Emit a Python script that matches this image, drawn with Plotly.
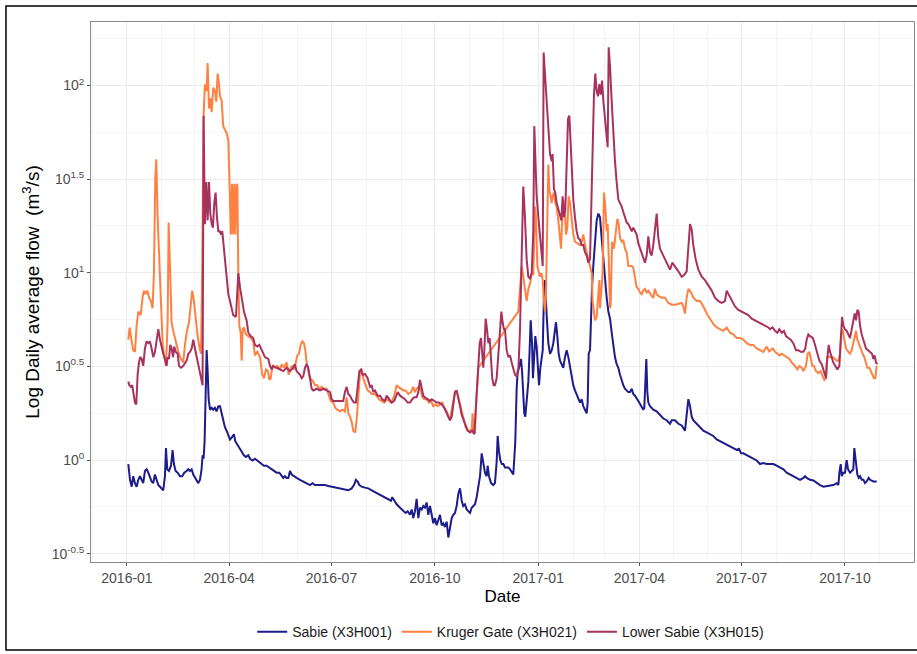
import numpy as np
import pandas as pd
import plotly.graph_objects as go

START = pd.Timestamp("2016-01-01")

# ---- Sabie (X3H001): day since 2016-01-01, log10 daily average flow ----
sabie_day = [1.2,2.7,4.2,5.6,7.1,8.6,10.1,11.6,13.1,14.5,16.0,17.5,19.0,20.5,21.9,23.4,24.9,26.4,27.9,29.4,30.9,32.3,33.8,34.7,35.9,37.4,39.2,40.6,41.8,43.3,45.1,47.2,49.2,51.0,53.1,54.6,56.1,57.6,59.0,60.5,62.0,63.5,65.0,66.4,67.3,68.2,69.1,70.0,70.9,71.8,72.7,73.9,75.4,76.8,78.3,79.8,81.3,82.8,84.2,85.7,87.2,88.7,90.2,
    91.7,93.2,95.2,96.4,98.2,100.0,102.1,104.1,105.9,108.0,109.5,111.8,113.9,116.0,118.4,119.9,121.9,124.3,126.7,128.8,130.8,133.2,135.6,137.7,139.1,140.6,142.1,143.6,145.1,146.6,148.6,151.0,154.0,156.9,159.9,162.9,165.2,167.3,170.3,173.3,176.2,179.2,182.2,185.1,188.1,191.1,194.0,197.0,200.0,202.0,203.8,205.3,206.8,208.9,
    211.8,214.8,217.8,220.7,223.7,226.7,229.6,232.6,235.0,236.1,237.9,240.0,243.0,245.9,248.0,249.8,251.9,253.4,254.8,256.3,257.8,259.3,260.8,262.3,263.7,265.2,266.7,268.2,269.7,271.2,272.6,274.1,275.6,277.1,278.6,280.1,281.5,283.0,284.5,286.0,287.5,289.0,290.4,291.9,293.4,294.9,296.4,297.9,299.3,300.8,302.3,303.8,305.3,306.8,308.2,309.7,311.2,312.7,314.2,315.7,317.1,318.6,320.1,321.0,322.2,324.0,326.0,327.5,329.0,329.9,331.1,332.3,333.6,335.0,336.4,
    339.4,340.9,342.4,343.8,344.7,345.6,346.8,347.7,348.9,349.8,350.7,351.6,352.7,353.6,354.5,355.7,357.2,358.1,359.3,360.5,361.3,362.2,363.4,364.6,365.5,366.7,367.9,368.8,370.0,371.1,372.0,373.5,375.0,376.5,378.0,379.4,380.9,381.8,383.0,384.2,385.4,386.9,388.3,389.8,391.3,392.8,394.3,395.8,397.2,398.7,400.2,401.7,403.2,404.7,406.1,407.6,409.1,410.0,410.9,412.1,413.0,413.9,415.0,416.5,418.0,419.5,421.0,422.2,423.3,424.5,425.7,426.9,428.4,429.9,431.4,432.8,434.3,435.8,437.3,438.8,440.3,441.7,443.2,444.7,446.2,447.7,449.2,450.6,
    452.1,455.1,458.1,459.5,460.4,461.6,462.2,463.1,464.0,465.5,468.4,471.4,474.4,477.3,480.3,483.3,484.8,487.7,490.7,493.7,496.6,498.1,499.6,501.1,502.6,504.0,507.0,510.0,512.9,515.9,518.9,521.8,524.8,527.8,530.7,533.7,536.7,539.6,542.6,544.7,546.5,548.5,551.5,554.5,557.4,560.4,563.4,566.3,569.3,
    572.3,575.3,578.2,581.2,584.2,587.1,590.1,593.1,596.0,599.0,602.0,603.4,604.9,607.9,610.9,613.8,616.8,619.8,622.7,625.7,628.6,631.6,633.1,634.0,635.2,636.1,637.5,639.0,640.5,641.7,643.5,645.0,646.4,647.3,648.5,650.0,651.2,652.4,653.9,655.4,656.8,658.3,660.1,661.3,664.2,667.2]
sabie_log = [-0.021,-0.105,-0.142,-0.086,-0.123,-0.142,-0.105,-0.086,-0.105,-0.123,-0.058,-0.049,-0.067,-0.095,-0.114,-0.123,-0.077,-0.105,-0.133,-0.142,-0.151,-0.161,-0.086,0.064,-0.049,-0.058,-0.03,0.054,-0.021,-0.058,-0.067,-0.086,-0.086,-0.067,-0.058,-0.049,-0.058,-0.049,-0.077,-0.095,-0.114,-0.123,-0.105,-0.049,0.026,0.007,0.101,0.381,0.587,0.475,0.325,0.269,0.279,0.269,0.279,0.26,0.288,0.288,0.25,0.204,0.176,0.157,0.138,
    0.11,0.12,0.138,0.101,0.082,0.064,0.045,0.026,0.017,0.026,0.007,-0.002,0.007,-0.002,-0.011,-0.021,-0.03,-0.03,-0.039,-0.049,-0.058,-0.067,-0.067,-0.086,-0.095,-0.086,-0.095,-0.095,-0.058,-0.077,-0.086,-0.095,-0.105,-0.114,-0.123,-0.133,-0.123,-0.133,-0.133,-0.133,-0.133,-0.138,-0.142,-0.146,-0.151,-0.157,-0.161,-0.161,-0.151,-0.133,-0.105,-0.114,-0.133,-0.142,
    -0.147,-0.151,-0.161,-0.17,-0.179,-0.189,-0.198,-0.207,-0.217,-0.198,-0.217,-0.236,-0.254,-0.273,-0.282,-0.273,-0.292,-0.264,-0.31,-0.273,-0.207,-0.31,-0.254,-0.264,-0.245,-0.254,-0.226,-0.292,-0.245,-0.292,-0.338,-0.31,-0.348,-0.32,-0.292,-0.348,-0.338,-0.357,-0.329,-0.413,-0.348,-0.31,-0.292,-0.282,-0.245,-0.179,-0.151,-0.217,-0.245,-0.236,-0.264,-0.273,-0.282,-0.254,-0.245,-0.236,-0.198,-0.142,-0.086,0.036,-0.021,-0.067,-0.086,-0.03,-0.086,-0.123,-0.133,-0.123,-0.011,0.129,0.045,-0.002,-0.021,-0.021,-0.039,
    -0.039,-0.049,-0.067,-0.077,0.007,0.101,0.381,0.475,0.493,0.512,0.54,0.475,0.325,0.25,0.232,0.325,0.419,0.55,0.746,0.624,0.437,0.531,0.662,0.606,0.493,0.4,0.493,0.55,0.587,0.886,0.961,0.774,0.624,0.568,0.587,0.624,0.68,0.736,0.662,0.568,0.531,0.512,0.493,0.55,0.587,0.55,0.493,0.437,0.4,0.372,0.353,0.325,0.307,0.325,0.288,0.269,0.25,0.307,0.568,0.587,0.774,0.923,1.036,1.185,1.279,1.316,1.297,1.204,1.129,1.036,0.923,0.867,0.793,0.755,0.68,0.606,0.55,0.512,0.493,0.456,0.419,0.4,0.381,0.372,0.363,0.363,0.381,0.353,
    0.344,0.316,0.288,0.269,0.279,0.475,0.54,0.363,0.307,0.288,0.269,0.26,0.241,0.222,0.213,0.194,0.213,0.213,0.194,0.185,0.157,0.26,0.325,0.288,0.232,0.213,0.194,0.176,0.157,0.148,0.138,0.129,0.11,0.101,0.092,0.082,0.073,0.064,0.054,0.06,0.036,0.036,0.026,0.017,0.007,-0.002,-0.021,-0.016,-0.021,
    -0.021,-0.021,-0.03,-0.039,-0.049,-0.067,-0.077,-0.086,-0.095,-0.105,-0.095,-0.086,-0.095,-0.105,-0.109,-0.123,-0.133,-0.142,-0.138,-0.133,-0.133,-0.123,-0.133,-0.067,-0.021,-0.086,-0.067,-0.067,0.0,-0.049,-0.067,-0.058,-0.049,0.064,-0.011,-0.077,-0.095,-0.086,-0.105,-0.105,-0.123,-0.114,-0.095,-0.105,-0.114,-0.114]

# ---- Kruger Gate (X3H021) ----
kruger_day = [1.2,2.4,4.2,5.6,7.1,8.6,10.1,12.2,13.9,15.1,16.6,18.1,19.6,21.4,22.8,24.0,25.2,26.1,27.3,28.8,30.3,31.7,33.2,34.7,36.2,37.1,38.3,39.7,41.2,43.3,45.7,48.1,50.1,51.6,53.1,55.2,56.9,58.1,59.6,61.1,62.9,64.4,65.9,67.0,68.2,69.4,70.9,71.8,73.0,74.2,75.4,76.8,78.3,79.5,80.7,81.9,82.8,84.2,85.7,87.2,88.7,90.2,
    91.5,92.5,93.5,94.5,95.5,96.5,97.5,98.3,99.1,100.0,101.2,102.1,103.0,104.1,105.9,108.0,110.1,112.4,113.9,116.0,118.4,120.4,121.9,123.7,125.5,126.7,127.9,129.6,131.7,133.8,136.2,137.7,139.7,142.1,143.9,145.7,147.4,148.9,150.4,151.6,153.1,154.6,156.1,157.5,158.7,159.9,161.4,162.9,164.4,165.8,167.3,169.4,171.2,173.3,175.3,177.7,179.8,181.3,183.6,185.4,187.2,189.6,191.9,194.0,195.5,197.0,198.5,200.0,201.4,203.2,204.4,205.9,207.4,208.9,210.3,
    211.8,214.2,216.3,217.8,220.1,222.2,224.3,226.7,229.0,231.1,233.2,235.5,237.9,240.0,241.5,243.9,245.9,248.0,250.4,252.8,254.8,256.3,257.8,259.9,261.7,262.8,264.6,266.7,268.8,270.6,272.6,274.7,276.5,278.6,280.6,282.4,284.5,286.0,287.5,289.0,290.4,291.9,293.4,294.9,296.4,297.9,299.6,301.4,303.2,305.3,306.8,307.6,308.5,309.7,310.6,312.1,312.7,
    348.3,349.8,351.3,352.7,354.2,355.7,357.2,358.7,360.2,361.6,363.1,364.0,365.2,366.4,367.6,368.8,370.0,371.1,372.0,372.9,373.8,375.0,375.9,377.1,378.0,378.8,380.0,381.2,382.4,383.9,385.4,386.3,387.2,388.3,389.5,390.7,391.9,393.1,394.3,395.8,397.2,398.7,400.8,403.2,404.7,406.1,407.6,409.1,410.6,412.1,413.6,414.4,415.6,416.5,418.0,419.5,420.4,421.0,422.2,423.3,424.5,425.7,426.9,427.8,428.7,429.9,430.5,431.7,433.4,435.2,436.4,437.6,438.8,440.3,441.7,443.2,444.7,446.2,447.7,449.2,450.6,
    452.1,453.6,455.1,456.6,458.1,459.5,461.0,462.5,464.0,465.5,466.9,468.4,469.9,471.4,472.9,475.9,478.8,481.8,484.8,487.7,490.7,493.7,495.1,496.6,498.1,499.6,502.0,504.0,507.0,510.0,513.0,515.9,518.9,521.8,524.8,527.8,530.7,533.7,536.7,539.6,542.6,545.6,548.5,551.5,554.5,557.4,560.4,563.4,566.3,569.3,571.5,
    574.6,576.7,578.8,580.6,582.7,584.7,587.1,589.5,591.6,594.5,596.6,598.4,600.5,602.0,604.3,605.8,607.3,608.5,610.0,611.4,613.2,615.3,617.4,619.2,620.6,622.1,623.3,624.2,625.7,628.0,630.1,631.6,633.1,634.6,635.5,636.7,638.1,639.9,642.0,643.5,645.0,646.4,647.9,648.8,650.0,651.5,653.0,654.7,656.2,657.7,658.9,660.7,662.8,664.8,666.0,667.2]
kruger_log = [0.643,0.708,0.634,0.587,0.578,0.718,0.793,0.774,0.867,0.905,0.886,0.905,0.867,0.849,0.811,0.998,1.503,1.606,1.297,1.036,0.755,0.624,0.55,0.503,0.736,1.269,1.036,0.736,0.69,0.634,0.578,0.54,0.521,0.615,0.68,0.736,0.849,0.905,0.849,0.755,0.662,0.606,0.568,1.036,1.839,2.007,1.97,2.12,1.877,1.933,1.858,1.989,1.97,1.914,2.064,2.007,1.942,1.923,1.783,1.764,1.746,1.708,
    1.465,1.204,1.475,1.204,1.475,1.204,1.475,1.465,0.998,0.718,0.68,0.531,0.699,0.708,0.671,0.662,0.652,0.634,0.559,0.578,0.55,0.456,0.437,0.484,0.475,0.428,0.437,0.503,0.493,0.503,0.484,0.512,0.493,0.521,0.456,0.493,0.503,0.484,0.521,0.559,0.568,0.615,0.634,0.624,0.587,0.521,0.475,0.437,0.428,0.419,0.4,0.4,0.381,0.391,0.381,0.381,0.344,0.316,0.307,0.279,0.269,0.26,0.269,0.26,0.335,0.25,0.232,0.204,0.157,0.148,0.213,0.363,0.465,0.484,0.437,
    0.41,0.372,0.363,0.353,0.353,0.344,0.325,0.316,0.307,0.325,0.316,0.307,0.344,0.4,0.391,0.381,0.372,0.372,0.353,0.363,0.391,0.363,0.381,0.391,0.372,0.335,0.325,0.325,0.307,0.316,0.288,0.297,0.288,0.297,0.307,0.279,0.26,0.232,0.213,0.269,0.316,0.363,0.372,0.335,0.288,0.25,0.222,0.176,0.157,0.157,0.166,0.25,0.148,0.148,0.288,0.475,0.493,
    0.793,0.923,1.036,0.979,0.923,0.849,0.914,0.942,0.998,0.989,1.353,1.297,1.036,0.998,0.979,0.998,0.961,0.849,0.793,0.886,1.222,1.578,1.447,1.409,1.372,1.409,1.428,1.372,1.353,1.279,1.204,1.129,1.26,1.391,1.353,1.204,1.241,1.409,1.372,1.279,1.204,1.166,1.157,1.148,1.166,1.204,1.148,1.11,1.073,1.036,0.998,0.849,0.793,0.746,0.764,0.886,0.961,0.811,0.923,0.998,1.428,1.353,1.222,1.26,1.092,0.811,0.83,1.166,1.129,1.222,1.288,1.26,1.185,1.166,1.175,1.129,1.11,1.036,1.036,1.036,1.026,
    0.979,0.923,0.914,0.895,0.886,0.905,0.914,0.895,0.905,0.886,0.877,0.867,0.914,0.886,0.877,0.867,0.867,0.839,0.83,0.83,0.834,0.839,0.82,0.783,0.867,0.914,0.895,0.867,0.849,0.849,0.82,0.783,0.755,0.727,0.708,0.699,0.69,0.708,0.68,0.671,0.652,0.652,0.643,0.624,0.615,0.615,0.596,0.587,0.578,0.606,0.58,
    0.596,0.578,0.568,0.559,0.568,0.559,0.55,0.54,0.521,0.503,0.484,0.503,0.493,0.475,0.503,0.568,0.578,0.54,0.503,0.503,0.475,0.465,0.475,0.447,0.428,0.437,0.55,0.55,0.55,0.55,0.54,0.531,0.531,0.568,0.671,0.699,0.652,0.596,0.578,0.568,0.587,0.624,0.68,0.69,0.643,0.615,0.596,0.568,0.55,0.521,0.493,0.493,0.465,0.437,0.437,0.503]

# ---- Lower Sabie (X3H015) ----
lower_day = [1.2,2.1,3.6,4.7,5.9,7.1,8.3,9.5,10.7,11.9,13.1,14.5,16.0,17.5,19.0,20.5,21.9,23.4,24.9,26.4,27.9,29.4,30.9,32.3,33.8,35.3,36.2,37.4,38.6,39.8,41.0,42.1,43.3,45.1,46.3,48.1,50.1,51.6,53.1,54.6,56.1,57.6,59.0,60.5,62.0,63.5,65.0,66.4,67.3,68.2,69.4,70.6,71.8,73.0,74.2,75.4,76.5,77.7,78.9,80.1,81.3,82.5,83.7,84.8,86.0,87.2,88.7,90.2,
    91.7,94.6,97.0,99.1,100.6,102.1,104.1,106.5,108.0,110.1,112.4,113.9,116.0,117.8,119.9,121.3,122.8,125.8,127.3,128.8,130.2,133.2,136.2,139.1,142.1,143.6,145.1,148.0,149.5,151.0,154.0,155.5,156.9,158.4,159.9,161.4,162.9,164.4,165.8,168.8,171.8,174.7,177.7,180.7,182.2,183.6,186.6,189.6,192.5,194.0,195.5,197.0,198.5,200.0,202.0,203.8,205.3,206.8,208.3,209.7,
    211.8,214.2,216.3,217.8,219.2,220.7,223.1,225.2,227.2,229.6,231.1,233.2,235.5,237.9,239.1,240.9,243.0,245.0,247.4,249.8,251.9,253.9,255.7,257.8,259.3,260.8,262.3,263.7,265.2,267.6,269.7,271.2,273.5,275.6,277.7,280.1,282.4,284.5,286.0,287.5,289.0,290.4,291.9,293.4,294.9,296.4,297.9,299.6,301.4,303.2,305.3,307.3,309.1,310.3,311.5,312.7,313.9,315.1,316.2,317.1,318.0,319.2,320.4,321.6,322.8,324.0,325.1,326.3,327.5,329.0,330.5,332.0,333.2,334.3,335.5,336.4,
    337.9,339.4,340.9,342.4,343.8,345.3,346.8,348.3,349.8,351.3,352.7,354.2,355.7,357.2,358.7,360.2,361.6,362.5,363.4,364.6,366.1,367.6,369.1,370.0,370.8,372.0,373.5,375.0,376.5,378.0,378.8,380.0,381.2,382.4,383.9,385.4,386.6,387.7,388.9,390.1,391.3,392.5,393.7,394.9,396.1,397.2,398.7,400.2,401.7,403.2,404.7,406.1,407.6,409.1,410.6,412.1,412.7,413.6,414.4,415.6,416.8,418.0,419.2,420.4,421.6,422.8,424.0,425.4,426.9,427.8,428.7,429.9,431.4,432.8,434.3,435.8,437.3,438.8,440.3,441.7,443.2,444.7,446.2,447.7,449.2,450.6,
    453.6,455.1,456.6,458.1,459.5,461.0,462.5,464.0,465.5,466.9,468.4,469.9,471.4,472.9,474.4,477.3,480.3,483.3,485.3,487.7,490.7,493.7,496.0,498.1,499.6,501.1,502.6,504.0,506.1,508.5,511.5,514.4,517.4,520.4,523.3,526.3,529.3,532.2,533.7,535.2,538.2,541.1,544.1,547.1,550.0,553.0,556.0,558.9,561.9,564.9,567.8,570.8,
    572.3,574.6,576.7,578.8,580.6,582.7,584.7,586.5,588.6,590.7,593.0,595.4,597.5,599.6,602.0,603.7,604.9,606.4,607.9,610.3,611.4,613.2,614.4,616.2,618.3,620.3,622.1,622.7,623.6,624.5,625.7,627.2,628.6,630.4,632.2,634.0,635.2,636.4,637.5,639.0,640.5,642.3,643.5,645.0,646.4,647.6,648.8,650.0,651.2,652.4,653.9,656.0,657.7,659.5,661.3,663.1,664.2,665.4,666.6,667.8]
lower_log = [0.419,0.4,0.391,0.4,0.353,0.307,0.297,0.456,0.521,0.55,0.54,0.503,0.596,0.634,0.624,0.634,0.596,0.55,0.578,0.643,0.699,0.643,0.596,0.568,0.54,0.503,0.55,0.54,0.615,0.596,0.55,0.606,0.578,0.568,0.503,0.493,0.503,0.521,0.531,0.568,0.578,0.596,0.643,0.596,0.55,0.512,0.456,0.419,0.4,1.839,1.26,1.484,1.279,1.484,1.316,1.26,1.241,1.372,1.428,1.297,1.222,1.222,1.204,1.222,1.148,1.073,0.979,0.886,
    0.849,0.774,0.764,0.998,0.923,0.867,0.793,0.746,0.68,0.662,0.652,0.615,0.606,0.615,0.587,0.568,0.55,0.54,0.503,0.484,0.503,0.493,0.484,0.475,0.493,0.484,0.475,0.493,0.512,0.475,0.456,0.437,0.447,0.493,0.512,0.493,0.428,0.381,0.372,0.381,0.372,0.381,0.372,0.363,0.325,0.316,0.316,0.316,0.316,0.363,0.391,0.353,0.344,0.325,0.307,0.307,0.4,0.475,0.484,0.456,
    0.46,0.437,0.391,0.4,0.363,0.372,0.344,0.344,0.325,0.316,0.344,0.325,0.307,0.316,0.335,0.363,0.344,0.335,0.325,0.307,0.307,0.325,0.335,0.335,0.363,0.428,0.381,0.344,0.335,0.325,0.316,0.325,0.316,0.307,0.307,0.297,0.279,0.25,0.232,0.213,0.232,0.288,0.363,0.372,0.335,0.288,0.241,0.213,0.176,0.157,0.148,0.157,0.138,0.25,0.419,0.493,0.624,0.652,0.55,0.493,0.578,0.755,0.699,0.624,0.652,0.55,0.437,0.4,0.4,0.437,0.55,0.699,0.793,0.736,0.699,0.699,
    0.587,0.55,0.559,0.521,0.484,0.456,0.447,0.475,0.699,1.036,1.46,1.297,1.073,0.979,0.97,0.998,1.222,1.783,1.596,1.409,1.297,1.185,1.073,1.036,2.176,2.064,1.877,1.727,1.634,1.596,1.634,1.447,1.428,1.372,1.335,1.297,1.279,1.409,1.297,1.335,1.596,1.821,1.839,1.69,1.521,1.391,1.297,1.222,1.185,1.176,1.148,1.148,1.11,1.092,1.054,1.073,1.222,1.447,1.783,1.951,2.064,1.97,1.942,2.007,1.951,2.026,1.914,1.821,1.727,1.671,2.204,2.101,1.914,1.727,1.596,1.484,1.391,1.372,1.353,1.325,1.297,1.269,1.26,1.241,1.222,1.241,
    1.204,1.157,1.129,1.101,1.073,1.054,1.092,1.194,1.11,1.092,1.148,1.222,1.316,1.185,1.129,1.092,1.054,1.017,1.054,1.036,1.008,0.979,0.989,1.008,1.166,1.26,1.232,1.148,1.073,1.017,0.979,0.961,0.933,0.905,0.867,0.849,0.839,0.849,0.905,0.886,0.849,0.82,0.802,0.793,0.783,0.774,0.755,0.746,0.736,0.727,0.718,0.708,
    0.699,0.708,0.69,0.68,0.699,0.68,0.69,0.662,0.652,0.643,0.624,0.587,0.587,0.578,0.578,0.596,0.643,0.671,0.662,0.652,0.634,0.596,0.568,0.531,0.512,0.475,0.437,0.512,0.55,0.615,0.578,0.55,0.521,0.503,0.484,0.503,0.662,0.764,0.718,0.699,0.69,0.671,0.652,0.699,0.736,0.783,0.746,0.802,0.793,0.718,0.671,0.634,0.596,0.587,0.578,0.568,0.54,0.559,0.521,0.512]

series_names = ["Sabie (X3H001)", "Kruger Gate (X3H021)", "Lower Sabie (X3H015)"]
series_colors = ["#1c1c8c", "#ff8142", "#a8325e"]

x_tick_dates = ["2016-01-01", "2016-04-01", "2016-07-01", "2016-10-01",
                "2017-01-01", "2017-04-01", "2017-07-01", "2017-10-01"]
x_tick_labels = ["2016-01", "2016-04", "2016-07", "2016-10",
                 "2017-01", "2017-04", "2017-07", "2017-10"]
y_tick_exponents = [-0.5, 0, 0.5, 1, 1.5, 2]
y_tick_labels = ["10<sup>-0.5</sup>", "10<sup>0</sup>", "10<sup>0.5</sup>",
                 "10<sup>1</sup>", "10<sup>1.5</sup>", "10<sup>2</sup>"]


def to_dates(days):
    return START + pd.to_timedelta(np.array(days), unit="D")


fig = go.Figure()
for name, color, d, lg in zip(series_names, series_colors,
                              [sabie_day, kruger_day, lower_day],
                              [sabie_log, kruger_log, lower_log]):
    fig.add_trace(go.Scatter(x=to_dates(d), y=10 ** np.array(lg), mode="lines",
                             name=name, line=dict(color=color, width=2)))

minor_months = pd.date_range("2015-12-01", "2017-12-01", freq="MS")
grid_major = "#ebebeb"
grid_minor = "#f4f4f4"
FONT = "Liberation Sans, Arial, sans-serif"
tick_font = dict(family=FONT, size=14, color="#4d4d4d")

fig.update_layout(
    width=917, height=654,
    margin=dict(l=91, r=3, t=22, b=92),
    paper_bgcolor="white", plot_bgcolor="white",
    font=dict(family=FONT, color="black"),
    showlegend=True,
    legend=dict(orientation="h", x=0.51, xanchor="center", y=-0.13, yanchor="middle",
                font=dict(size=14, color="#1a1a1a"), itemwidth=30, tracegroupgap=0),
    shapes=[dict(type="rect", xref="paper", yref="paper",
                 x0=-0.1033, x1=1.02, y0=-0.163, y1=1.0296,
                 line=dict(color="black", width=1.5), fillcolor="rgba(0,0,0,0)", layer="below")],
)
fig.update_xaxes(
    range=["2015-11-30", "2017-12-01 10:00"],
    tickmode="array", tickvals=x_tick_dates, ticktext=x_tick_labels,
    tickfont=tick_font, ticks="outside", ticklen=3, tickcolor="#555555",
    showgrid=True, gridcolor=grid_major, gridwidth=1,
    minor=dict(tickmode="array", tickvals=list(minor_months), showgrid=True,
               gridcolor=grid_minor, gridwidth=0.8, ticks=""),
    showline=True, linecolor="#8a8a8a", linewidth=1, mirror=True, zeroline=False,
    title=dict(text="Date", font=dict(size=17, color="black"), standoff=5),
)
fig.update_yaxes(
    type="log", range=[-0.544, 2.339],
    tickmode="array", tickvals=[10 ** e for e in y_tick_exponents], ticktext=y_tick_labels,
    tickfont=tick_font, ticks="outside", ticklen=3, tickcolor="#555555",
    showgrid=True, gridcolor=grid_major, gridwidth=1,
    minor=dict(tickmode="array", tickvals=[10 ** (e + 0.25) for e in y_tick_exponents],
               showgrid=True, gridcolor=grid_minor, gridwidth=0.8, ticks=""),
    showline=True, linecolor="#8a8a8a", linewidth=1, mirror=True, zeroline=False,
    title=dict(text="Log Daily average flow  (m<sup>3</sup>/s)",
               font=dict(size=19, color="black"), standoff=7),
)

fig.write_html("out.html", config={"displayModeBar": False},
               post_script="document.body.style.margin='0';")
